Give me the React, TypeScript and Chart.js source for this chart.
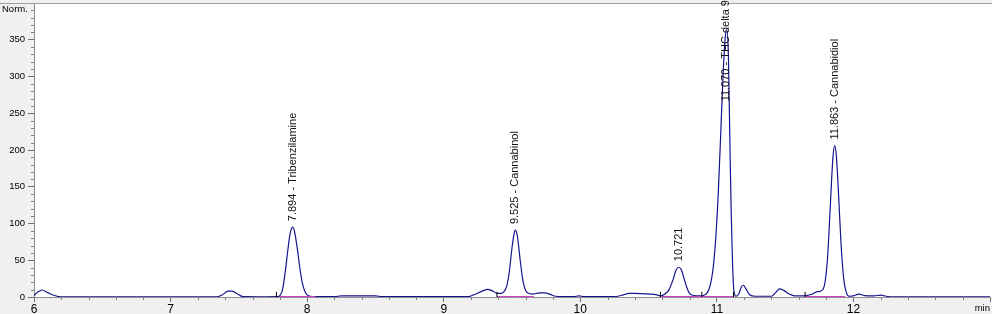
import React, { useEffect, useRef } from "react";
import { Chart, registerables } from "chart.js";

Chart.register(...registerables);

// Retention time (min) and detector response (Norm.)
const retentionTimes = [
  6.0, 6.03, 6.06, 6.1, 6.15, 6.2, 7.0, 7.34, 7.38, 7.42, 7.45, 7.49, 7.53, 7.7,
  7.78, 7.8, 7.82, 7.84, 7.86, 7.875, 7.894, 7.91, 7.93, 7.95, 7.97, 7.99, 8.01, 8.04,
  8.2, 8.25, 8.5, 8.55, 9.18, 9.22, 9.27, 9.32, 9.36, 9.39, 9.42, 9.44, 9.46, 9.48,
  9.5, 9.515, 9.525, 9.54, 9.56, 9.58, 9.6, 9.62, 9.65, 9.7, 9.74, 9.78, 9.82, 9.95,
  9.99, 10.03, 10.25, 10.3, 10.36, 10.4, 10.5, 10.56, 10.59, 10.62, 10.65, 10.68, 10.7,
  10.721, 10.74, 10.76, 10.78, 10.8, 10.83, 10.88, 10.9, 10.93, 10.95, 10.97, 10.99,
  11.01, 11.03, 11.045, 11.06, 11.072, 11.085, 11.095, 11.105, 11.115, 11.125, 11.14,
  11.16, 11.18, 11.195, 11.21, 11.24, 11.28, 11.4, 11.43, 11.46, 11.49, 11.53, 11.57,
  11.65, 11.7, 11.73, 11.77, 11.79, 11.81, 11.83, 11.85, 11.863, 11.875, 11.89, 11.91,
  11.93, 11.95, 11.97, 12.0, 12.04, 12.08, 12.15, 12.2, 12.24, 12.3, 13.0,
];
const signal = [
  2, 7, 9.5, 6, 2, 0.3, 0.3, 0.3, 3, 8, 8, 4, 0.5, 0.3,
  0.5, 2, 10, 35, 66, 86, 95, 87, 63, 35, 15, 5, 1.5, 0.5,
  0.5, 1.5, 1.5, 0.5, 0.5, 3, 7, 10.5, 8, 5, 5, 7, 14, 34,
  67, 86, 91, 82, 50, 22, 9, 5, 4, 5.5, 5.5, 3.5, 1, 0.5,
  1.5, 0.5, 0.5, 2, 5, 5, 4, 3, 1.5, 4, 10, 24, 36,
  40.5, 37, 25, 13, 5, 2, 1.5, 2, 6, 15, 35, 75,
  140, 230, 300, 350, 364, 325, 215, 115, 45, 8, 1,
  4, 14, 16, 12, 3, 1, 1, 6, 11, 9, 4, 1.5,
  2, 4, 7, 9, 18, 52, 121, 190, 206, 192, 144, 70,
  23, 5, 1, 1.5, 4, 2, 1.5, 2.5, 1, 0.3, 0.3,
];

// Peak annotations
const peakTimes = [7.894, 9.525, 10.721, 11.07, 11.863];
const peakNames = [
  "7.894 - Tribenzilamine",
  "9.525 - Cannabinol",
  "10.721",
  "11.070 - THC delta 9",
  "11.863 - Cannabidiol",
];
const peakLabelLevels = [95, 91, 40.5, 258, 206];

// Integration baselines (start, end) and integration event marks
const integrationStarts = [7.8, 9.39, 10.587, 11.646];
const integrationEnds = [8.06, 9.66, 11.122, 11.94];
const integrationMarks = [7.775, 9.39, 10.587, 10.89, 11.122, 11.646];

// Axis ranges and labels
const xMin = 6;
const xMax = 13;
const yMin = 0;
const yMax = 400;
const xUnitLabel = "min";
const yUnitLabel = "Norm.";

const FONT = '"Liberation Sans", Arial, sans-serif';

const chromPlugin = {
  id: "chrom",
  beforeDraw(chart: any) {
    const { ctx, chartArea: a, width, height } = chart;
    ctx.save();
    ctx.fillStyle = "#f0f0f0";
    ctx.fillRect(0, 0, width, height);
    ctx.fillStyle = "#ffffff";
    ctx.fillRect(a.left, a.top, width - a.left, a.bottom - a.top);
    ctx.restore();
  },
  afterDraw(chart: any) {
    const { ctx, chartArea: a, scales, width } = chart;
    const xs = scales.x;
    const ys = scales.y;
    ctx.save();
    // top frame line
    ctx.strokeStyle = "#a0a0a0";
    ctx.lineWidth = 1;
    ctx.beginPath();
    ctx.moveTo(0, Math.round(a.top) + 0.5);
    ctx.lineTo(width, Math.round(a.top) + 0.5);
    ctx.stroke();
    // minor ticks
    ctx.strokeStyle = "#808080";
    ctx.beginPath();
    for (let v = yMin + 10; v < yMax; v += 10) {
      if (v % 50 === 0) continue;
      const y = Math.round(ys.getPixelForValue(v)) + 0.5;
      ctx.moveTo(a.left - 3, y);
      ctx.lineTo(a.left, y);
    }
    for (let i = 1; i < (xMax - xMin) * 5; i++) {
      if (i % 5 === 0) continue;
      const x = Math.round(xs.getPixelForValue(xMin + i * 0.2)) + 0.5;
      ctx.moveTo(x, a.bottom);
      ctx.lineTo(x, a.bottom + 3);
    }
    ctx.stroke();
    // unit labels
    ctx.fillStyle = "#000";
    ctx.font = `9.5px ${FONT}`;
    ctx.textAlign = "left";
    ctx.textBaseline = "middle";
    ctx.fillText(yUnitLabel, 2, 9);
    ctx.textAlign = "right";
    ctx.fillText(xUnitLabel, xs.getPixelForValue(xMax), 308);
    // peak labels
    ctx.font = `11px ${FONT}`;
    ctx.fillStyle = "#111";
    ctx.textAlign = "left";
    ctx.textBaseline = "middle";
    peakTimes.forEach((t, i) => {
      const x = xs.getPixelForValue(t);
      const y = ys.getPixelForValue(peakLabelLevels[i]) - 6;
      ctx.save();
      ctx.translate(x, y);
      ctx.rotate(-Math.PI / 2);
      ctx.fillText(peakNames[i], 0, 0);
      ctx.restore();
    });
    ctx.restore();
  },
};

export default function App() {
  const ref = useRef<HTMLCanvasElement | null>(null);
  useEffect(() => {
    if (!ref.current) return;
    const traceData = retentionTimes.map((t, i) => ({ x: t, y: signal[i] }));
    const baselineData: any[] = [];
    integrationStarts.forEach((s, i) => {
      baselineData.push({ x: s, y: 0 }, { x: integrationEnds[i], y: 0 }, { x: integrationEnds[i], y: null });
    });
    const markData: any[] = [];
    integrationMarks.forEach((t) => {
      markData.push({ x: t, y: 0 }, { x: t, y: 7 }, { x: t, y: null });
    });
    const chart = new Chart(ref.current, {
      type: "line",
      data: {
        datasets: [
          {
            data: markData,
            borderColor: "#000000",
            borderWidth: 1,
            pointRadius: 0,
            tension: 0,
            spanGaps: false,
            order: 0,
          },
          {
            data: baselineData,
            borderColor: "#d040c8",
            borderWidth: 2,
            pointRadius: 0,
            tension: 0,
            spanGaps: false,
            order: 1,
          },
          {
            data: traceData,
            borderColor: "#14148c",
            borderWidth: 1.2,
            pointRadius: 0,
            cubicInterpolationMode: "monotone",
            order: 2,
          },
        ],
      },
      options: {
        responsive: false,
        animation: false,
        events: [],
        layout: { padding: { top: 3, right: 2, left: 0, bottom: 0 } },
        plugins: { legend: { display: false }, tooltip: { enabled: false } },
        scales: {
          x: {
            type: "linear",
            min: xMin,
            max: xMax,
            ticks: {
              stepSize: 1,
              color: "#000",
              font: { size: 12, family: FONT },
              padding: 0,
              maxRotation: 0,
              autoSkip: false,
              callback: (v: any) => (v === xMax ? "" : String(v)),
            },
            grid: { drawOnChartArea: false, tickLength: 5, color: "#707070" },
            border: { color: "#909090" },
            afterFit: (s: any) => {
              s.height = 17;
              s.paddingLeft = 0;
              s.paddingRight = 0;
            },
          },
          y: {
            type: "linear",
            min: yMin,
            max: yMax,
            ticks: {
              stepSize: 50,
              color: "#000",
              font: { size: 9.5, family: FONT },
              padding: 3,
              autoSkip: false,
              callback: (v: any) => (v === yMax ? "" : String(v)),
            },
            grid: { drawOnChartArea: false, tickLength: 6, color: "#707070" },
            border: { color: "#909090" },
            afterFit: (s: any) => {
              s.width = 34;
              s.paddingTop = 0;
              s.paddingBottom = 0;
            },
          },
        },
      },
      plugins: [chromPlugin],
    });
    return () => chart.destroy();
  }, []);
  return (
    <div style={{ position: "absolute", left: 0, top: 0, width: 992, height: 314 }}>
      <canvas ref={ref} width={992} height={314} style={{ display: "block" }} />
    </div>
  );
}
